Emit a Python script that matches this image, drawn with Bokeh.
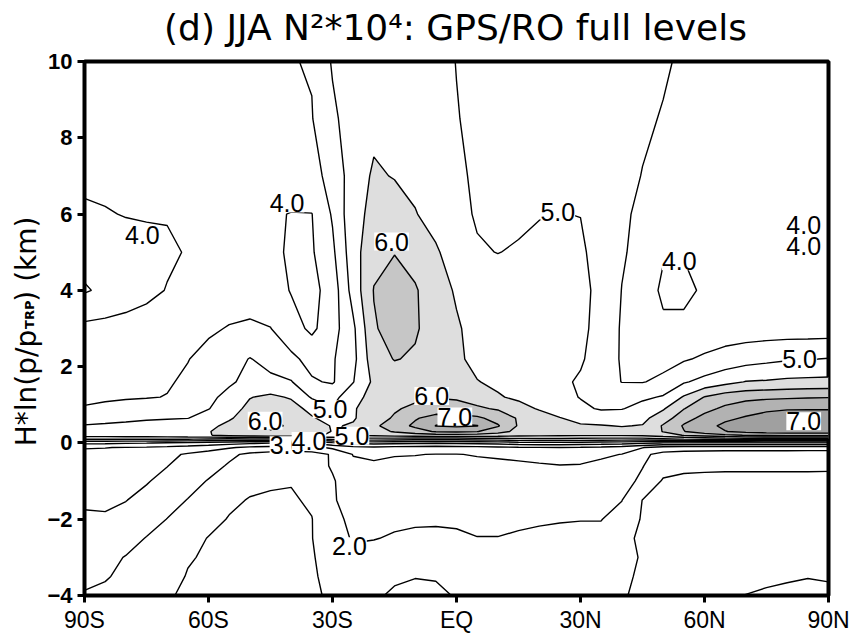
import numpy as np
from bokeh.plotting import figure
from bokeh.layouts import row, column
from bokeh.models import ColumnDataSource, LabelSet, FixedTicker
from bokeh.core.properties import value
from bokeh.embed import file_html
from bokeh.resources import INLINE

# ---------------- grid (latitude, height relative to tropopause) ----------------
lat = [-90, -85, -80, -75, -70, -65, -60, -55, -50, -45, -40, -35, -30, -25, -20, -15, -10, -5,
       0, 5, 10, 15, 20, 25, 30, 35, 40, 45, 50, 55, 60, 65, 70, 75, 80, 85, 90]
height_km = [-4.0, -3.5, -3.0, -2.5, -2.0, -1.5, -1.0, -0.6, -0.3, -0.12, 0.0, 0.1, 0.2, 0.3,
             0.45, 0.65, 0.9, 1.2, 1.6, 2.2, 3.0, 4.0, 5.0, 6.0, 7.0, 8.5, 10.0]

# N^2 * 10^4 values, one row per height level
n2_m4p0 = [1.97,1.92,1.85,1.72,1.53,1.45,1.38,1.33,1.30,1.30,1.33,1.42,1.58,1.62,1.55,1.45,1.42,1.44,1.52,1.62,1.70,1.72,1.74,1.75,1.72,1.68,1.55,1.38,1.30,1.25,1.20,1.12,0.99,0.93,0.90,0.92,0.95]
n2_m3p5 = [2.08,2.03,1.92,1.82,1.68,1.47,1.40,1.36,1.34,1.34,1.37,1.45,1.62,1.72,1.66,1.55,1.51,1.52,1.58,1.68,1.75,1.78,1.80,1.82,1.80,1.75,1.60,1.42,1.36,1.32,1.28,1.22,1.15,1.10,1.05,1.01,1.02]
n2_m3p0 = [2.20,2.12,1.98,1.88,1.74,1.54,1.44,1.40,1.38,1.38,1.42,1.47,1.66,1.85,1.80,1.72,1.68,1.68,1.72,1.78,1.82,1.85,1.88,1.88,1.87,1.85,1.68,1.45,1.40,1.37,1.34,1.30,1.26,1.22,1.18,1.15,1.15]
n2_m2p5 = [2.35,2.30,2.18,1.98,1.85,1.68,1.48,1.42,1.40,1.40,1.44,1.49,1.75,2.05,2.02,1.95,1.92,1.92,1.95,1.99,1.99,1.96,1.93,1.92,1.91,1.90,1.62,1.42,1.38,1.36,1.34,1.32,1.30,1.28,1.26,1.24,1.24]
n2_m2p0 = [2.45,2.48,2.38,2.20,1.99,1.85,1.66,1.47,1.42,1.42,1.45,1.49,1.85,2.12,2.12,2.10,2.06,2.05,2.05,2.10,2.10,2.06,2.04,2.02,2.01,2.01,1.85,1.45,1.40,1.38,1.37,1.36,1.35,1.34,1.33,1.33,1.33]
n2_m1p5 = [2.55,2.53,2.51,2.38,2.20,1.98,1.80,1.60,1.47,1.44,1.46,1.55,1.95,2.20,2.20,2.18,2.15,2.15,2.15,2.18,2.20,2.20,2.18,2.15,2.12,2.08,2.01,1.49,1.42,1.40,1.39,1.38,1.38,1.38,1.38,1.38,1.38]
n2_m1p0 = [2.70,2.68,2.62,2.53,2.38,2.20,1.97,1.80,1.64,1.56,1.52,1.60,1.95,2.30,2.35,2.35,2.32,2.32,2.32,2.35,2.38,2.36,2.30,2.25,2.20,2.18,2.18,1.90,1.45,1.42,1.42,1.42,1.42,1.42,1.42,1.42,1.43]
n2_m0p6 = [2.82,2.80,2.75,2.67,2.51,2.35,2.18,1.95,1.80,1.72,1.70,1.78,2.05,2.40,2.45,2.42,2.42,2.43,2.43,2.42,2.42,2.44,2.47,2.49,2.48,2.40,2.25,2.02,1.70,1.58,1.56,1.55,1.55,1.55,1.55,1.55,1.54]
n2_m0p3 = [2.92,2.90,2.85,2.75,2.60,2.45,2.30,2.10,1.90,1.80,1.75,1.80,2.05,2.52,2.56,2.52,2.51,2.49,2.49,2.52,2.55,2.58,2.60,2.62,2.62,2.57,2.49,2.10,1.85,1.80,1.78,1.78,1.78,1.77,1.77,1.76,1.76]
n2_m0p12 = [3.02,3.01,2.98,2.95,2.90,2.80,2.70,2.55,2.40,2.35,2.30,2.35,2.60,2.85,2.90,2.85,2.82,2.80,2.82,2.85,2.90,2.95,2.98,2.99,2.95,2.90,2.80,2.52,2.30,2.25,2.22,2.20,2.20,2.20,2.20,2.20,2.20]
n2_p0p0 = [3.62,3.60,3.55,3.52,3.45,3.40,3.30,3.20,3.10,3.03,2.98,3.10,3.40,3.60,3.70,3.65,3.60,3.55,3.60,3.65,3.70,3.80,3.85,3.85,3.80,3.75,3.70,3.60,3.48,3.48,3.48,3.48,3.48,3.48,3.48,3.48,3.48]
n2_p0p1 = [4.52,4.52,4.52,4.52,4.52,4.52,4.45,4.40,4.40,4.40,4.30,4.40,4.60,4.80,4.80,4.75,4.70,4.70,4.70,4.75,4.80,4.85,4.90,4.90,4.85,4.80,4.80,4.80,4.90,5.02,5.10,5.20,5.25,5.30,5.30,5.30,5.30]
n2_p0p2 = [5.25,5.25,5.28,5.30,5.35,5.40,5.48,5.60,5.72,5.80,5.75,5.60,5.42,5.52,5.60,5.70,5.75,5.80,5.80,5.78,5.72,5.65,5.60,5.58,5.56,5.56,5.56,5.60,5.80,6.02,6.20,6.40,6.52,6.55,6.60,6.60,6.60]
n2_p0p3 = [5.15,5.18,5.20,5.25,5.30,5.38,5.48,5.65,5.85,5.98,5.95,5.75,5.48,5.55,5.80,6.05,6.30,6.55,6.60,6.52,6.20,5.85,5.70,5.65,5.62,5.62,5.62,5.68,6.02,6.48,6.80,6.98,7.15,7.25,7.30,7.30,7.30]
n2_p0p45 = [5.02,5.05,5.10,5.18,5.25,5.30,5.40,5.60,5.85,6.05,5.97,5.80,5.45,5.55,5.90,6.25,6.60,7.02,7.10,7.02,6.55,5.95,5.80,5.65,5.55,5.52,5.48,5.52,6.05,6.55,6.85,7.10,7.30,7.40,7.45,7.48,7.48]
n2_p0p65 = [4.85,4.88,4.90,4.93,4.96,4.99,5.20,5.45,5.70,5.97,5.85,5.55,5.30,5.45,5.80,6.05,6.45,6.70,6.72,6.60,6.30,5.95,5.75,5.52,5.35,5.30,5.32,5.38,5.75,6.30,6.65,6.90,7.05,7.15,7.20,7.22,7.23]
n2_p0p9 = [4.52,4.56,4.62,4.70,4.80,4.92,4.98,5.30,5.62,5.85,5.70,5.35,5.02,5.45,5.75,5.95,6.10,6.20,6.15,6.07,5.95,5.70,5.45,5.25,5.10,4.95,4.97,5.20,5.45,5.98,6.35,6.60,6.80,6.92,6.97,6.97,6.97]
n2_p1p2 = [4.45,4.46,4.47,4.48,4.51,4.70,4.92,5.10,5.48,5.60,5.45,4.95,4.85,5.30,5.70,5.85,5.90,5.98,5.95,5.80,5.55,5.40,5.25,5.15,4.98,4.88,4.82,4.90,5.05,5.55,6.02,6.25,6.35,6.40,6.43,6.46,6.48]
n2_p1p6 = [4.35,4.38,4.40,4.43,4.47,4.55,4.75,4.95,5.10,5.10,5.03,4.55,4.45,4.98,5.60,5.75,5.72,5.65,5.60,5.52,5.40,5.30,5.18,5.08,4.95,4.70,4.49,4.48,4.60,4.95,5.15,5.35,5.52,5.55,5.60,5.62,5.63]
n2_p2p2 = [4.30,4.33,4.37,4.42,4.46,4.49,4.60,4.80,5.02,4.85,4.60,4.35,4.45,4.85,5.80,6.02,5.95,5.80,5.60,5.35,5.30,5.25,5.20,5.15,5.05,4.80,4.45,4.35,4.35,4.45,4.58,4.70,4.80,4.88,4.95,4.98,5.02]
n2_p3p0 = [4.12,4.15,4.18,4.22,4.30,4.38,4.45,4.52,4.55,4.51,4.20,3.90,4.30,4.90,5.95,6.20,6.05,5.80,5.55,5.35,5.30,5.28,5.25,5.20,5.10,4.85,4.45,4.30,4.10,4.08,4.15,4.22,4.24,4.25,4.25,4.25,4.25]
n2_p4p0 = [3.45,3.60,3.75,3.88,4.02,4.15,4.25,4.32,4.35,4.25,3.97,3.85,4.22,5.20,6.02,6.25,6.05,5.70,5.45,5.30,5.25,5.20,5.18,5.15,5.10,4.90,4.49,4.30,3.90,3.92,4.05,4.10,4.12,4.13,4.13,4.12,4.12]
n2_p5p0 = [3.70,3.75,3.80,3.85,3.93,4.03,4.12,4.18,4.20,4.12,3.93,3.95,4.40,5.30,5.85,5.98,5.80,5.55,5.30,5.05,4.99,5.05,5.10,5.12,5.10,4.75,4.55,4.35,4.05,4.02,4.08,4.08,4.07,4.05,4.04,4.02,4.01]
n2_p6p0 = [3.93,3.97,4.02,4.04,4.03,4.08,4.12,4.14,4.15,4.07,3.98,3.99,4.55,5.35,5.62,5.68,5.52,5.35,5.15,4.95,4.85,4.90,4.98,5.01,4.99,4.80,4.58,4.40,4.30,4.22,4.18,4.15,4.12,4.10,4.08,4.05,4.02]
n2_p7p0 = [4.10,4.12,4.15,4.18,4.20,4.23,4.26,4.30,4.33,4.36,4.38,4.40,4.60,5.30,5.55,5.48,5.40,5.25,5.08,4.93,4.85,4.80,4.78,4.76,4.73,4.68,4.60,4.49,4.42,4.36,4.32,4.30,4.28,4.26,4.25,4.24,4.22]
n2_p8p5 = [4.20,4.20,4.22,4.25,4.28,4.31,4.34,4.37,4.39,4.41,4.43,4.48,4.90,5.25,5.40,5.42,5.38,5.20,5.02,4.90,4.82,4.78,4.76,4.74,4.72,4.68,4.62,4.55,4.48,4.40,4.35,4.32,4.30,4.28,4.28,4.28,4.28]
n2_p10p0 = [4.30,4.30,4.32,4.34,4.36,4.38,4.40,4.42,4.43,4.44,4.48,4.53,5.05,5.20,5.30,5.30,5.25,5.15,4.99,4.90,4.85,4.82,4.80,4.78,4.75,4.72,4.68,4.62,4.54,4.45,4.40,4.38,4.36,4.35,4.35,4.35,4.35]

rows = [n2_m4p0, n2_m3p5, n2_m3p0, n2_m2p5, n2_m2p0, n2_m1p5, n2_m1p0, n2_m0p6, n2_m0p3,
        n2_m0p12, n2_p0p0, n2_p0p1, n2_p0p2, n2_p0p3, n2_p0p45, n2_p0p65, n2_p0p9, n2_p1p2,
        n2_p1p6, n2_p2p2, n2_p3p0, n2_p4p0, n2_p5p0, n2_p6p0, n2_p7p0, n2_p8p5, n2_p10p0]
z = np.array(rows, dtype=float)

# contour levels and shading
line_levels = [1.0, 1.5, 2.0, 2.5, 3.0, 3.5, 4.0, 4.5, 5.0, 5.5, 6.0, 6.5, 7.0, 7.5]
fill_levels = [5.5, 6.0, 6.5, 7.0, 7.5, 12.0]
fill_colors = ["#dedede", "#c6c6c6", "#b2b2b2", "#a0a0a0", "#8c8c8c"]

# contour labels
label_text = ["4.0", "4.0", "6.0", "5.0", "4.0", "4.0", "4.0", "5.0", "3.0", "6.0", "4.0",
              "5.0", "5.0", "6.0", "7.0", "2.0", "7.0"]
label_lat = [-76.0, -41.0, -15.7, 24.5, 53.9, 84.0, 84.0, 83.0, -41.0, -46.3, -35.7,
             -30.6, -25.3, -6.0, -0.4, -25.9, 84.0]
label_km = [5.45, 6.28, 5.28, 6.06, 4.76, 5.71, 5.15, 2.19, -0.06, 0.58, 0.05,
            0.88, 0.19, 1.23, 0.69, -2.71, 0.57]

x_tick_values = [-90, -60, -30, 0, 30, 60, 90]
x_tick_labels = ["90S", "60S", "30S", "EQ", "30N", "60N", "90N"]
y_tick_values = [-4, -2, 0, 2, 4, 6, 8, 10]

title_text = "(d) JJA N²*10⁴: GPS/RO full levels"
ylab_parts = ["H*ln(p/p", "TRP", ") (km)"]

# ---------------- main contour panel ----------------
p = figure(width=808, height=587, x_range=(-90, 90), y_range=(-4, 10), title=None,
           output_backend="svg", toolbar_location=None,
           min_border_left=38, min_border_right=24, min_border_top=13, min_border_bottom=38,
           background_fill_color="white", border_fill_color="white")

p.contour(lat, height_km, z, fill_levels, fill_color=fill_colors, line_color=None)
p.contour(lat, height_km, z, line_levels, line_color="black", line_width=1.4)

src = ColumnDataSource(dict(x=label_lat, y=label_km, text=label_text))
p.add_layout(LabelSet(x="x", y="y", text="text", source=src, text_align="center",
                      text_baseline="middle", text_font_size="25px",
                      text_font=value("Liberation Sans"), text_color="black",
                      background_fill_color="white", background_fill_alpha=1.0))

p.grid.visible = False
p.outline_line_color = "black"
p.outline_line_width = 4

p.xaxis.ticker = FixedTicker(ticks=x_tick_values)
p.xaxis.major_label_overrides = {v: t for v, t in zip(x_tick_values, x_tick_labels)}
p.yaxis.ticker = FixedTicker(ticks=y_tick_values)
for ax in p.axis:
    ax.axis_line_color = None
    ax.major_tick_line_color = "black"
    ax.major_tick_line_width = 3
    ax.major_tick_out = 7
    ax.major_tick_in = 0
    ax.minor_tick_line_color = None
    ax.major_label_text_color = "black"
    ax.major_label_text_font = "Liberation Sans"
    ax.major_label_text_font_size = "23px"
p.xaxis.major_label_standoff = 4
p.yaxis.major_label_standoff = 5
p.yaxis.major_label_text_font_size = "22px"
p.yaxis.major_label_text_font_style = "bold"

# ---------------- strip above: title (coordinates in px) ----------------
tt = figure(width=852, height=48, x_range=(0, 852), y_range=(0, 48),
            output_backend="svg", toolbar_location=None, min_border=0,
            x_axis_location=None, y_axis_location=None,
            background_fill_color="white", border_fill_color="white")
tt.outline_line_color = None
tt.grid.visible = False
tt.text(x=[455], y=[21], text=[title_text], text_align="center", text_baseline="middle",
        text_font=value("DejaVu Sans"), text_font_size=value("36px"), text_color="black")

# ---------------- strip on the left: rotated y-axis title (coordinates in px) ----------------
yl = figure(width=44, height=587, x_range=(0, 44), y_range=(0, 587),
            output_backend="svg", toolbar_location=None, min_border=0,
            x_axis_location=None, y_axis_location=None,
            background_fill_color="white", border_fill_color="white")
yl.outline_line_color = None
yl.grid.visible = False
yl.text(x=[26], y=[164], text=[ylab_parts[0]], angle=np.pi / 2, text_align="left",
        text_baseline="middle", text_font=value("DejaVu Sans"),
        text_font_size=value("28px"), text_color="black")
yl.text(x=[28.5], y=[293], text=[ylab_parts[1]], angle=np.pi / 2, text_align="left",
        text_baseline="middle", text_font=value("DejaVu Sans"),
        text_font_size=value("13px"), text_font_style="bold", text_color="black")
yl.text(x=[26], y=[323], text=[ylab_parts[2]], angle=np.pi / 2, text_align="left",
        text_baseline="middle", text_font=value("DejaVu Sans"),
        text_font_size=value("28px"), text_color="black")

layout = column(tt, row(yl, p))
open("out.html", "w").write(file_html(layout, INLINE))
